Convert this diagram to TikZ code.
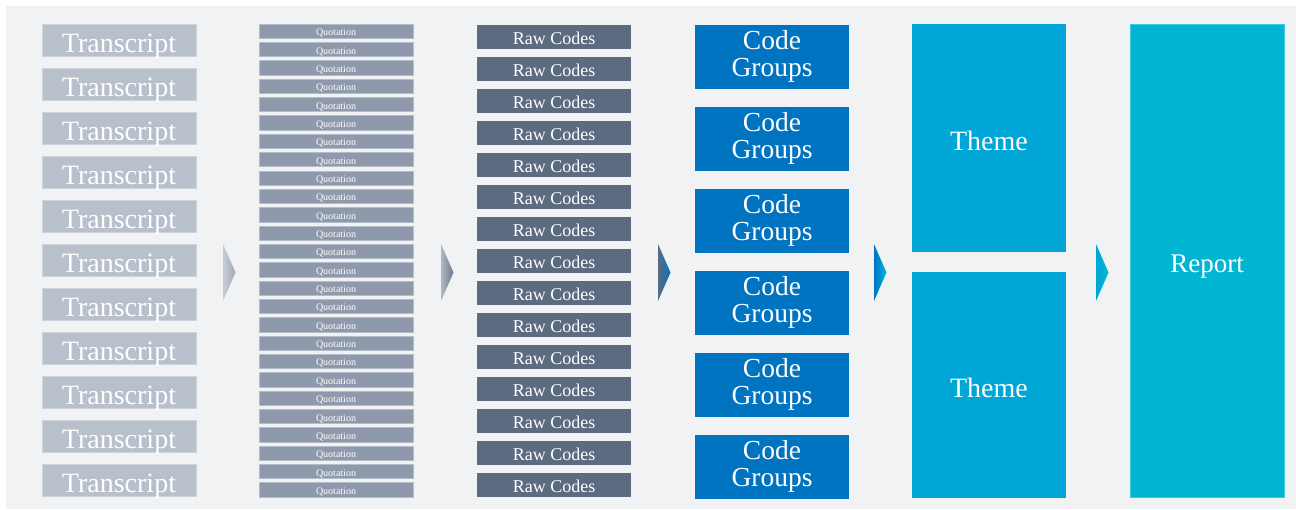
\documentclass[tikz,border=0pt]{standalone}
\usepackage{fontspec}
\setmainfont{Liberation Serif}
\definecolor{panel}{HTML}{F1F2F4}
\definecolor{transc}{HTML}{B8C0CC}
\definecolor{transedge}{HTML}{CED4DC}
\definecolor{quotc}{HTML}{8E9AAB}
\definecolor{quotedge}{HTML}{B4BDC9}
\definecolor{rawc}{HTML}{5C6B80}
\definecolor{groupc}{HTML}{0073C1}
\definecolor{themec}{HTML}{00A6D6}
\definecolor{reportc}{HTML}{00B6D3}
\definecolor{reportedge}{HTML}{3FC8E0}
\tikzset{
  card/.style={anchor=north west, inner sep=0pt, outer sep=0pt, minimum width=154pt, text=white},
  transcript/.style={card, fill=transc, draw=transedge, line width=0.8pt, minimum height=32pt,
    font=\fontsize{28}{28}\selectfont, text height=25pt, text depth=0pt},
  quote/.style={card, fill=quotc, draw=quotedge, line width=0.6pt, minimum height=14.3pt,
    font=\fontsize{10}{10}\selectfont, text height=9pt, text depth=0pt},
  rawcode/.style={card, fill=rawc, minimum height=24pt,
    font=\fontsize{18}{18}\selectfont, text height=15pt, text depth=0pt},
  codegroup/.style={card, fill=groupc, minimum height=64pt, align=center,
    font=\fontsize{27.5}{26.7}\selectfont},
  themebox/.style={card, fill=themec, font=\fontsize{28}{28}\selectfont, text height=24pt, text depth=0pt},
  reportbox/.style={card, fill=reportc, draw=reportedge, line width=0.6pt,
    font=\fontsize{27}{27}\selectfont, text height=24pt, text depth=0pt},
}
% a shaded chevron between two columns
\newcommand{\stagearrow}[3]{%
  \shade[left color=#2, right color=#3] (#1,244) -- ({#1+12.5},272.5) -- (#1,301) -- cycle;}
\begin{document}
\begin{tikzpicture}[x=1pt,y=-1pt]
\useasboundingbox (0,0) rectangle (1296,509);
\fill[panel] (6,6) rectangle (1296,509);

% column 1: transcripts
\foreach \i in {1,...,11}
  \node[transcript] (t\i) at (42,{24+(\i-1)*44}) {Transcript};

% column 2: quotations
\foreach \i in {1,...,26}
  \node[quote] (q\i) at (259,{24+(\i-1)*18.35}) {Quotation};

% column 3: raw codes
\foreach \i in {1,...,15}
  \node[rawcode] (r\i) at (477,{24.5+(\i-1)*32}) {Raw Codes};

% column 4: code groups
\foreach \i in {1,...,6}
  \node[codegroup] (g\i) at (695,{24.5+(\i-1)*82}) {Code\\Groups};

% column 5: themes
\node[themebox, minimum height=228pt] (th1) at (912,24) {Theme};
\node[themebox, minimum height=226pt] (th2) at (912,272) {Theme};

% column 6: report
\node[reportbox, minimum height=473pt] (rep) at (1130,24) {Report};

% chevrons between the stages
\stagearrow{223}{transc!80!white}{quotc!85!white}
\stagearrow{441}{quotc!70!white}{rawc!90!white}
\stagearrow{658}{rawc}{groupc}
\stagearrow{874}{groupc}{themec!80!cyan}
\stagearrow{1096}{themec}{reportc}
\end{tikzpicture}
\end{document}
